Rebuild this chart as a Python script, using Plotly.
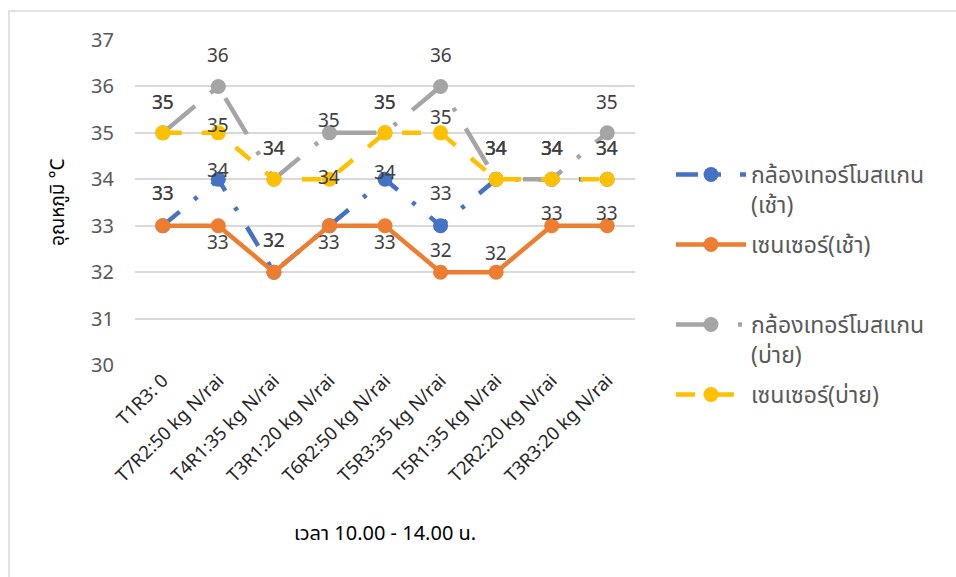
import plotly.graph_objects as go

# Plot treatments along the x axis
categories = [
    "T1R3: 0",
    "T7R2:50 kg N/rai",
    "T4R1:35 kg N/rai",
    "T3R1:20 kg N/rai",
    "T6R2:50 kg N/rai",
    "T5R3:35 kg N/rai",
    "T5R1:35 kg N/rai",
    "T2R2:20 kg N/rai",
    "T3R3:20 kg N/rai",
]

# Temperatures (°C)
scan_morning = [33, 34, 32, 33, 34, 33, 34, 34, 34]
sensor_morning = [33, 33, 32, 33, 33, 32, 32, 33, 33]
scan_afternoon = [35, 36, 34, 35, 35, 36, 34, 34, 35]
sensor_afternoon = [35, 35, 34, 34, 35, 35, 34, 34, 34]

series_names = [
    "กล้องเทอร์โมสแกน<br>(เช้า)",
    "เซนเซอร์(เช้า)",
    "กล้องเทอร์โมสแกน<br>(บ่าย)",
    "เซนเซอร์(บ่าย)",
]

y_ticks = [30, 31, 32, 33, 34, 35, 36, 37]

# Vertical label offsets in px (positive = above the point, None = no label)
label_shift = [
    [33, 9, 32, None, 7, 33, 31, 31, 31],
    [33, -16, 32, -16, -16, 22, 19, 13, 13],
    [31, 31, 31, 13, 31, 31, 31, 31, 31],
    [31, 8, 31, 2, 31, 16, 31, 31, 31],
]

colors = ["#4472C4", "#ED7D31", "#A5A5A5", "#FFC000"]
dashes = ["22px,19px,4px,19px", "solid", "42px,20px,4px,20px", "19px,20px"]
legend_ids = ["legend", "legend2", "legend3", "legend4"]
legend_tops = [153, 223, 303, 373]  # px from top of page

W, H = 956, 577
L, R, T, B = 135, 321, 40, 212
PW, PH = W - L - R, H - T - B


def px_x(p):
    return (p - L) / PW


def px_y(p):
    return (H - B - p) / PH


FONT = "Noto Sans, Noto Sans Thai, Tahoma, sans-serif"

fig = go.Figure()
all_series = [scan_morning, sensor_morning, scan_afternoon, sensor_afternoon]
for vals, name, col, dash, lg in zip(all_series, series_names, colors, dashes, legend_ids):
    fig.add_trace(go.Scatter(
        x=categories, y=vals, name=name, mode="lines+markers",
        line=dict(color=col, width=4.5, dash=dash),
        marker=dict(color=col, size=15, symbol="circle"),
        legend=lg,
    ))

for vals, shifts in zip(all_series, label_shift):
    for c, v, s in zip(categories, vals, shifts):
        if s is None:
            continue
        fig.add_annotation(
            x=c, y=v, text=str(v), showarrow=False, yshift=s,
            font=dict(family=FONT, size=19, color="#404040"),
        )

# axis titles
fig.add_annotation(
    xref="paper", yref="paper", x=px_x(385), y=px_y(532),
    xanchor="center", yanchor="middle",
    text="เวลา 10.00 - 14.00 น.", showarrow=False,
    font=dict(family=FONT, size=20, color="#000000"),
)
fig.add_annotation(
    xref="paper", yref="paper", x=px_x(57), y=px_y(202),
    xanchor="center", yanchor="middle",
    text="อุณหภูมิ °C", showarrow=False, textangle=-90,
    font=dict(family=FONT, size=19, color="#000000"),
)

# chart frame
fig.add_shape(
    type="rect", xref="paper", yref="paper",
    x0=px_x(9), y0=px_y(11), x1=px_x(W + 10), y1=px_y(H + 10),
    line=dict(color="#D9D9D9", width=1.5), layer="below",
)

legend_style = dict(
    xanchor="left", yanchor="top",
    font=dict(family=FONT, size=23, color="#595959"),
    itemwidth=70, valign="top", bgcolor="rgba(0,0,0,0)",
)
legends = {
    lg: dict(x=px_x(671), y=px_y(top), **legend_style)
    for lg, top in zip(legend_ids, legend_tops)
}

fig.update_layout(
    width=W, height=H,
    margin=dict(l=L, r=R, t=T, b=B),
    paper_bgcolor="white", plot_bgcolor="white",
    font=dict(family=FONT, color="#595959"),
    showlegend=True,
    xaxis=dict(
        type="category", range=[-0.5, 8.5], showgrid=False, showline=False,
        zeroline=False, ticks="", tickangle=-45,
        tickfont=dict(family=FONT, size=18.5, color="#262626"),
    ),
    yaxis=dict(
        range=[30, 37], tickvals=y_ticks, showgrid=True, gridcolor="#D9D9D9",
        gridwidth=1.5, zeroline=False, showline=False, ticks="",
        tickfont=dict(family=FONT, size=20, color="#595959"),
        ticklabelstandoff=20,
    ),
    **legends,
)

fig.write_html("out.html")
